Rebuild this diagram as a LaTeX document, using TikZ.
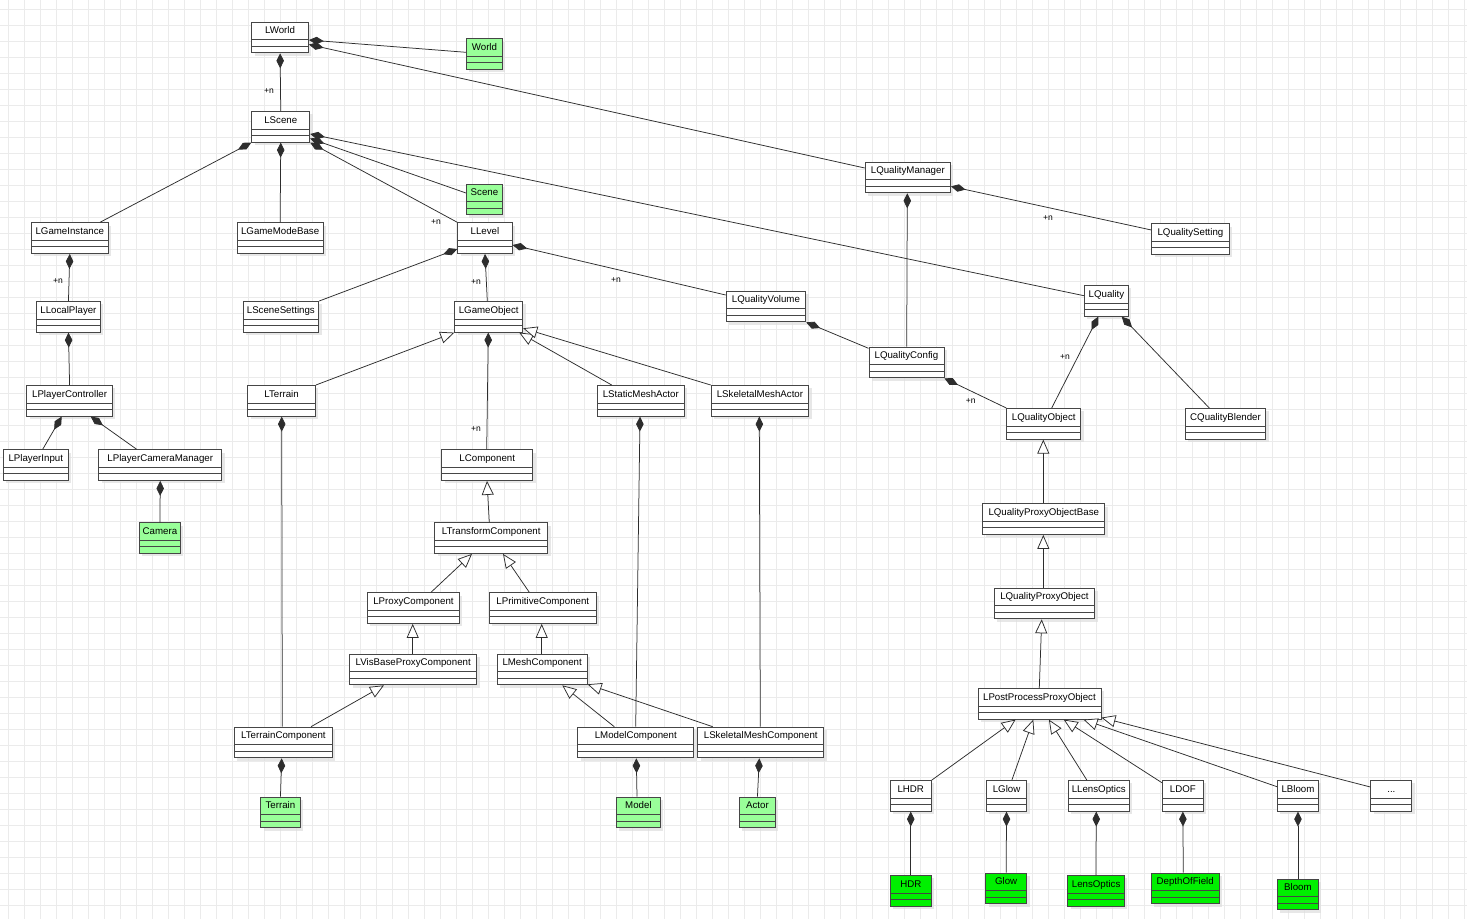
\documentclass[tikz,border=0pt]{standalone}
\usepackage{fontspec}
\setmainfont{Liberation Sans}
\usetikzlibrary{arrows.meta,shadows,calc}
\definecolor{gridc}{RGB}{235,235,235}
\definecolor{lgreen}{RGB}{153,255,153}
\definecolor{bgreen}{RGB}{0,240,0}
\definecolor{edgec}{RGB}{70,70,70}
\definecolor{linec}{RGB}{45,45,45}
\begin{document}
\begin{tikzpicture}[x=1pt,y=-1pt,
 cls/.style={rectangle, draw=edgec, line width=0.9pt, fill=white, inner xsep=0pt, inner ysep=0pt,
   minimum width=#1, minimum height=30.7pt, text height=11.8pt, text depth=18.9pt,
   font=\fontsize{9.7}{11}\selectfont, text=black, anchor=north west,
   drop shadow={shadow xshift=3pt, shadow yshift=-3pt, fill=black!13, opacity=0.7},
   path picture={\draw[edgec, line width=0.9pt]
     ([yshift=-17.5pt]path picture bounding box.north west) -- ([yshift=-17.5pt]path picture bounding box.north east)
     ([yshift=-24pt]path picture bounding box.north west) -- ([yshift=-24pt]path picture bounding box.north east);}},
 gcls/.style={cls=#1, fill=lgreen},
 bcls/.style={cls=#1, fill=bgreen},
 comp/.style={draw=linec, line width=0.75pt, -{Diamond[length=15pt,width=7.5pt]}},
 inh/.style={draw=linec, line width=0.75pt, -{Triangle[length=14pt,width=12pt,fill=white]}},
 lbl/.style={font=\fontsize{8.5}{9}\selectfont, text=black, inner sep=0pt}]
\useasboundingbox (0,0) rectangle (1467,919);
\fill[white] (0,0) rectangle (1467,919);
\foreach \i in {0,...,91} \draw[gridc, line width=1pt] ({8.3+16*\i},0) -- ({8.3+16*\i},919);
\foreach \j in {0,...,56} \draw[gridc, line width=1pt] (0,{9.3+16*\j}) -- (1467,{9.3+16*\j});

% ---------- classes ----------
\node[cls=56.7] (LWorld) at (251.3,21.7) {LWorld};
\node[gcls=36] (World) at (466,38.3) {World};
\node[cls=58] (LScene) at (251.3,111) {LScene};
\node[cls=76.7] (LGameInstance) at (31,222.3) {LGameInstance};
\node[cls=86] (LGameModeBase) at (236.7,222.3) {LGameModeBase};
\node[gcls=36] (Scene) at (466,183.7) {Scene};
\node[cls=54.4] (LLevel) at (457.3,222.3) {LLevel};
\node[cls=85.3] (LQualityManager) at (864.7,161.7) {LQualityManager};
\node[cls=77.4] (LQualitySetting) at (1151.3,223.3) {LQualitySetting};
\node[cls=64] (LLocalPlayer) at (36,301) {LLocalPlayer};
\node[cls=75.8] (LSceneSettings) at (242.5,301) {LSceneSettings};
\node[cls=68] (LGameObject) at (454.3,301) {LGameObject};
\node[cls=79.6] (LQualityVolume) at (725.7,290.7) {LQualityVolume};
\node[cls=44] (LQuality) at (1084,285) {LQuality};
\node[cls=75] (LQualityConfig) at (868.5,346.7) {LQualityConfig};
\node[cls=85.7] (LPlayerController) at (26.3,385) {LPlayerController};
\node[cls=67.7] (LTerrain) at (247.3,385) {LTerrain};
\node[cls=87.3] (LStaticMeshActor) at (596.7,385) {LStaticMeshActor};
\node[cls=97.6] (LSkeletalMeshActor) at (710.7,385) {LSkeletalMeshActor};
\node[cls=74] (LQualityObject) at (1006.3,408) {LQualityObject};
\node[cls=80.5] (CQualityBlender) at (1184.8,408) {CQualityBlender};
\node[cls=64.7] (LPlayerInput) at (3,449.3) {LPlayerInput};
\node[cls=123] (LPlayerCameraManager) at (98.3,449.3) {LPlayerCameraManager};
\node[cls=91] (LComponent) at (441.3,449.3) {LComponent};
\node[gcls=41] (Camera) at (139,522.3) {Camera};
\node[cls=113] (LTransformComponent) at (434.3,522.3) {LTransformComponent};
\node[cls=122] (LQualityProxyObjectBase) at (982.3,503.3) {LQualityProxyObjectBase};
\node[cls=92] (LProxyComponent) at (367,592.3) {LProxyComponent};
\node[cls=106.7] (LPrimitiveComponent) at (489,592.3) {LPrimitiveComponent};
\node[cls=100.6] (LQualityProxyObject) at (993.7,587.7) {LQualityProxyObject};
\node[cls=127] (LVisBaseProxyComponent) at (349.3,653.7) {LVisBaseProxyComponent};
\node[cls=90] (LMeshComponent) at (496.7,653.7) {LMeshComponent};
\node[cls=123] (LPostProcessProxyObject) at (977.5,688) {LPostProcessProxyObject};
\node[cls=98] (LTerrainComponent) at (234,726.7) {LTerrainComponent};
\node[cls=116] (LModelComponent) at (577.3,726.7) {LModelComponent};
\node[cls=126] (LSkeletalMeshComponent) at (697.3,726.7) {LSkeletalMeshComponent};
\node[gcls=39.4] (Terrain) at (260.3,796.7) {Terrain};
\node[gcls=44] (Model) at (616,796.5) {Model};
\node[gcls=36] (Actor) at (739,796.5) {Actor};
\node[cls=41.4] (LHDR) at (889.6,780) {LHDR};
\node[cls=40.4] (LGlow) at (985.9,780) {LGlow};
\node[cls=61] (LLensOptics) at (1067.8,780) {LLensOptics};
\node[cls=41] (LDOF) at (1161.9,780) {LDOF};
\node[cls=41] (LBloom) at (1277,780) {LBloom};
\node[cls=41] (Dots) at (1370.4,780) {...};
\node[bcls=41.4] (HDR) at (889.6,875) {HDR};
\node[bcls=41] (Glow) at (985.2,872.7) {Glow};
\node[bcls=56.6] (LensOptics) at (1067.4,875) {LensOptics};
\node[bcls=67.5] (DepthOfField) at (1151,872.7) {DepthOfField};
\node[bcls=41] (Bloom) at (1277,878.7) {Bloom};

% ---------- compositions ----------
\draw[comp] (LScene.north) -- (LWorld.south);
\draw[comp] ($(World.north west)+(0,14)$) -- ($(LWorld.north east)+(0,18.3)$);
\draw[comp] ($(LQualityManager.north west)+(0,6.3)$) -- ($(LWorld.north east)+(0,22.8)$);
\draw[comp] ($(LGameInstance.north west)+(69,0)$) -- (LScene.south west);
\draw[comp] (LGameModeBase.north) -- (LScene.south);
\draw[comp] ($(LQuality.north west)+(0,10.7)$) -- ($(LScene.north east)+(0,23)$);
\draw[comp] ($(Scene.north west)+(0,9.3)$) -- ($(LScene.north east)+(0,27.5)$);
\draw[comp] (LLevel.north west) -- (LScene.south east);
\draw[comp] (LLocalPlayer.north) -- (LGameInstance.south);
\draw[comp] (LPlayerController.north) -- (LLocalPlayer.south);
\draw[comp] ($(LPlayerInput.north west)+(39.7,0)$) -- ($(LPlayerController.south west)+(35.4,0)$);
\draw[comp] ($(LPlayerCameraManager.north west)+(38.4,0)$) -- ($(LPlayerController.south west)+(64.4,0)$);
\draw[comp] (Camera.north) -- (LPlayerCameraManager.south);
\draw[comp] (LSceneSettings.north east) -- ($(LLevel.north west)+(0,26.7)$);
\draw[comp] ($(LGameObject.north west)+(33,0)$) -- ($(LLevel.south west)+(27.7,0)$);
\draw[comp] ($(LQualityVolume.north west)+(0,4.3)$) -- ($(LLevel.north east)+(0,22.7)$);
\draw[comp] ($(LQualityConfig.north west)+(38.2,0)$) -- ($(LQualityManager.south west)+(42.6,0)$);
\draw[comp] ($(LQualitySetting.north west)+(0,6.7)$) -- ($(LQualityManager.north east)+(0,24.7)$);
\draw[comp] ($(LQualityConfig.north west)+(0,1.6)$) -- (LQualityVolume.south east);
\draw[comp] (LQualityObject.north west) -- (LQualityConfig.south east);
\draw[comp] ($(LQualityObject.north west)+(45.4,0)$) -- ($(LQuality.south west)+(14.3,0)$);
\draw[comp] ($(CQualityBlender.north west)+(24.5,0)$) -- ($(LQuality.south west)+(37.7,0)$);
\draw[comp] ($(LComponent.north west)+(45.4,0)$) -- ($(LGameObject.south west)+(34,0)$);
\draw[comp] ($(LTerrainComponent.north west)+(48.3,0)$) -- ($(LTerrain.south west)+(34.4,0)$);
\draw[comp] ($(LModelComponent.north west)+(58.4,0)$) -- ($(LStaticMeshActor.south west)+(43.3,0)$);
\draw[comp] ($(LSkeletalMeshComponent.north west)+(63,0)$) -- ($(LSkeletalMeshActor.south west)+(48.6,0)$);
\draw[comp] (Terrain.north) -- ($(LTerrainComponent.south west)+(47.7,0)$);
\draw[comp] ($(Model.north west)+(21,0)$) -- ($(LModelComponent.south west)+(59,0)$);
\draw[comp] (Actor.north) -- ($(LSkeletalMeshComponent.south west)+(62,0)$);
\draw[comp] (HDR.north) -- (LHDR.south);
\draw[comp] (Glow.north) -- (LGlow.south);
\draw[comp] ($(LensOptics.north west)+(28.5,0)$) -- ($(LLensOptics.south west)+(28.5,0)$);
\draw[comp] ($(DepthOfField.north west)+(32.3,0)$) -- (LDOF.south);
\draw[comp] (Bloom.north) -- (LBloom.south);

% ---------- generalizations ----------
\draw[inh] (LTerrain.north east) -- (LGameObject.south west);
\draw[inh] ($(LStaticMeshActor.north west)+(15,0)$) -- ($(LGameObject.south east)+(-4,0)$);
\draw[inh] (LSkeletalMeshActor.north west) -- ($(LGameObject.north east)+(0,27.3)$);
\draw[inh] ($(LTransformComponent.north west)+(55,0)$) -- ($(LComponent.south west)+(45.7,0)$);
\draw[inh] ($(LProxyComponent.north west)+(64,0)$) -- ($(LTransformComponent.south west)+(37.7,0)$);
\draw[inh] ($(LPrimitiveComponent.north west)+(40.3,0)$) -- ($(LTransformComponent.south west)+(68.7,0)$);
\draw[inh] ($(LVisBaseProxyComponent.north west)+(63.4,0)$) -- ($(LProxyComponent.south west)+(45.7,0)$);
\draw[inh] ($(LMeshComponent.north west)+(45,0)$) -- ($(LPrimitiveComponent.south west)+(52.7,0)$);
\draw[inh] ($(LTerrainComponent.north west)+(77,0)$) -- ($(LVisBaseProxyComponent.south west)+(34.7,0)$);
\draw[inh] ($(LModelComponent.north west)+(37,0)$) -- ($(LMeshComponent.south west)+(65.6,0)$);
\draw[inh] ($(LSkeletalMeshComponent.north west)+(15.4,0)$) -- ($(LMeshComponent.south east)+(0,-1)$);
\draw[inh] ($(LQualityProxyObjectBase.north west)+(61,0)$) -- ($(LQualityObject.south west)+(37,0)$);
\draw[inh] ($(LQualityProxyObject.north west)+(49.6,0)$) -- ($(LQualityProxyObjectBase.south west)+(61,0)$);
\draw[inh] ($(LPostProcessProxyObject.north west)+(61.8,0)$) -- ($(LQualityProxyObject.south west)+(48,0)$);
\draw[inh] (LHDR.north east) -- ($(LPostProcessProxyObject.south west)+(38.1,0)$);
\draw[inh] ($(LGlow.north west)+(26,0)$) -- ($(LPostProcessProxyObject.south west)+(55.8,0)$);
\draw[inh] ($(LLensOptics.north west)+(19,0)$) -- ($(LPostProcessProxyObject.south west)+(71.4,0)$);
\draw[inh] ($(LDOF.north west)+(0,2.7)$) -- ($(LPostProcessProxyObject.south west)+(86.2,0)$);
\draw[inh] ($(LBloom.north west)+(0,6.7)$) -- ($(LPostProcessProxyObject.south west)+(106,0)$);
\draw[inh] ($(Dots.north west)+(0,7)$) -- ($(LPostProcessProxyObject.south east)+(0,-2)$);

% ---------- multiplicity labels ----------
\node[lbl] (m1) at (269,91) {+n};
\node[lbl] (m2) at (436,222) {+n};
\node[lbl] (m3) at (58,281) {+n};
\node[lbl] (m4) at (476,281.7) {+n};
\node[lbl] (m5) at (616,280) {+n};
\node[lbl] (m6) at (1048,218) {+n};
\node[lbl] (m7) at (1065,356.7) {+n};
\node[lbl] (m8) at (970.7,400.7) {+n};
\node[lbl] (m9) at (476,429) {+n};
\end{tikzpicture}
\end{document}
